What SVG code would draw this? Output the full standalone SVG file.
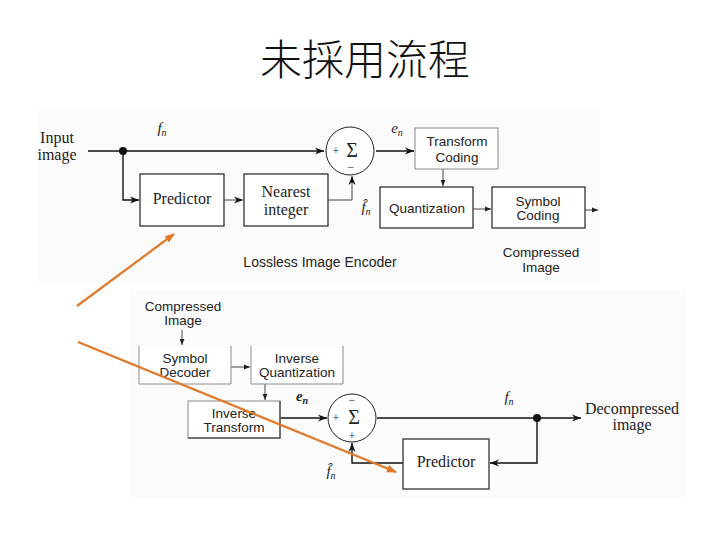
<svg xmlns="http://www.w3.org/2000/svg" width="720" height="540" viewBox="0 0 720 540">
<defs>
<marker id="ah" viewBox="0 0 10 10" refX="10" refY="5" markerWidth="9" markerHeight="9" markerUnits="userSpaceOnUse" orient="auto">
<path d="M0,1 L10,5 L0,9 L3,5 Z" fill="#111"/>
</marker>
<marker id="ahs" viewBox="0 0 10 10" refX="10" refY="5" markerWidth="6" markerHeight="6" markerUnits="userSpaceOnUse" orient="auto">
<path d="M0,1 L10,5 L0,9 Z" fill="#222"/>
</marker>
<marker id="oa" viewBox="0 0 10 10" refX="9" refY="5" markerWidth="10" markerHeight="10" markerUnits="userSpaceOnUse" orient="auto">
<path d="M0,1 L10,5 L0,9 Z" fill="#E07A2A"/>
</marker>
</defs>
<style>
.serif{font-family:"Liberation Serif","Times New Roman",serif;fill:#222;}
.sans{font-family:"Liberation Sans",Arial,sans-serif;fill:#222;}
.it{font-style:italic;}
.box{fill:#fff;stroke:#333;stroke-width:1.3;}
.gbox{fill:#fff;stroke:#8a8a8a;stroke-width:1;}
.ln{fill:none;stroke:#111;stroke-width:1.4;}
.lt{fill:none;stroke:#444;stroke-width:1;}
.sum{fill:#fff;stroke:#222;stroke-width:1;}
.or{fill:none;stroke:#E07A2A;stroke-width:2.2;}
</style>
<rect width="720" height="540" fill="#fff"/>
<rect x="38" y="110" width="562" height="172" fill="#fbfbfb"/>
<rect x="130" y="290" width="556" height="207" fill="#fbfbfb"/>

<text x="365" y="75" text-anchor="middle" font-family="Noto Sans CJK TC, sans-serif" font-size="42" font-weight="300" fill="#111">未採用流程</text>

<g id="connectors">
<line class="ln" x1="88" y1="151" x2="324" y2="151" marker-end="url(#ah)"/>
<circle cx="123" cy="151" r="4" fill="#111"/>
<polyline class="ln" points="123,151 123,200 139,200" marker-end="url(#ah)"/>
<line class="lt" x1="224" y1="200" x2="243" y2="200" marker-end="url(#ah)"/>
<polyline class="lt" points="328,200 352,200 352,176" marker-end="url(#ah)"/>
<line class="ln" x1="376" y1="151" x2="414" y2="151" marker-end="url(#ah)"/>
<line class="lt" x1="443" y1="169" x2="443" y2="186" marker-end="url(#ahs)"/>
<line class="lt" x1="473" y1="209" x2="491" y2="209" marker-end="url(#ahs)"/>
<line class="lt" x1="585" y1="210" x2="598" y2="210" marker-end="url(#ahs)"/>

<line class="lt" x1="182" y1="330" x2="182" y2="345" marker-end="url(#ahs)"/>
<line class="lt" x1="231" y1="367" x2="250" y2="367" marker-end="url(#ahs)"/>
<line class="lt" x1="265" y1="384" x2="265" y2="400" marker-end="url(#ahs)"/>
<line class="ln" x1="280" y1="418" x2="327" y2="418" marker-end="url(#ah)"/>
<line class="ln" x1="377" y1="418" x2="581" y2="418" marker-end="url(#ah)"/>
<circle cx="537" cy="418" r="4" fill="#111"/>
<polyline class="ln" points="537,418 537,463 490,463" marker-end="url(#ah)"/>
<polyline class="ln" points="403,463 352,463 352,443" marker-end="url(#ah)"/>
</g>

<g id="input-label">
<text class="serif" x="57" y="143" text-anchor="middle" font-size="16">Input</text>
<text class="serif" x="57" y="160" text-anchor="middle" font-size="16">image</text>
</g>
<text class="serif it" x="162" y="133" text-anchor="middle" font-size="15">f<tspan font-size="10" dy="3">n</tspan></text>

<g id="predictor-enc">
<rect class="box" x="140" y="174" width="84" height="52"/>
<text class="serif" x="182" y="204" text-anchor="middle" font-size="16">Predictor</text>
</g>
<g id="nearest-integer">
<rect class="box" x="244" y="174" width="84" height="52"/>
<text class="serif" x="286" y="197" text-anchor="middle" font-size="16">Nearest</text>
<text class="serif" x="286" y="215" text-anchor="middle" font-size="16">integer</text>
</g>
<g id="sum-enc">
<circle class="sum" cx="350" cy="151" r="24"/>
<text class="serif" x="336" y="155" text-anchor="middle" font-size="12">+</text>
<text class="serif" x="352" y="157" text-anchor="middle" font-size="20">Σ</text>
<text class="serif" x="351" y="171" text-anchor="middle" font-size="12">−</text>
</g>
<text class="serif it" x="397" y="133" text-anchor="middle" font-size="15">e<tspan font-size="10" dy="3">n</tspan></text>
<g id="transform-coding">
<rect class="gbox" x="415" y="128" width="83" height="41"/>
<text class="sans" x="457" y="146" text-anchor="middle" font-size="13.5">Transform</text>
<text class="sans" x="457" y="162" text-anchor="middle" font-size="13.5">Coding</text>
</g>
<text class="serif it" x="366" y="212" text-anchor="middle" font-size="15">f̂<tspan font-size="10" dy="3">n</tspan></text>
<g id="quantization">
<rect class="box" x="380" y="187" width="93" height="41"/>
<text class="sans" x="427" y="213" text-anchor="middle" font-size="13.5">Quantization</text>
</g>
<g id="symbol-coding">
<rect class="box" x="492" y="187" width="93" height="41"/>
<text class="sans" x="538" y="206" text-anchor="middle" font-size="13.5">Symbol</text>
<text class="sans" x="538" y="220" text-anchor="middle" font-size="13.5">Coding</text>
</g>
<text class="sans" x="320" y="267" text-anchor="middle" font-size="14">Lossless Image Encoder</text>
<g id="compressed-out">
<text class="sans" x="541" y="257" text-anchor="middle" font-size="13.5">Compressed</text>
<text class="sans" x="541" y="272" text-anchor="middle" font-size="13.5">Image</text>
</g>

<g id="compressed-in">
<text class="sans" x="183" y="311" text-anchor="middle" font-size="13.5">Compressed</text>
<text class="sans" x="183" y="325" text-anchor="middle" font-size="13.5">Image</text>
</g>
<g id="symbol-decoder">
<path class="gbox" d="M139,346 L139,384 L231,384 L231,346"/>
<text class="sans" x="185" y="363" text-anchor="middle" font-size="13.5">Symbol</text>
<text class="sans" x="185" y="377" text-anchor="middle" font-size="13.5">Decoder</text>
</g>
<g id="inverse-quantization">
<path class="gbox" d="M251,346 L251,384 L343,384 L343,346"/>
<text class="sans" x="297" y="363" text-anchor="middle" font-size="13.5">Inverse</text>
<text class="sans" x="297" y="377" text-anchor="middle" font-size="13.5">Quantization</text>
</g>
<g id="inverse-transform">
<rect class="gbox" x="188" y="401" width="92" height="37"/>
<path d="M188,438 L280,438 L280,401" fill="none" stroke="#555" stroke-width="1.5"/>
<text class="sans" x="234" y="418" text-anchor="middle" font-size="13.5">Inverse</text>
<text class="sans" x="234" y="432" text-anchor="middle" font-size="13.5">Transform</text>
</g>
<text class="serif it" x="302" y="401" text-anchor="middle" font-size="15" font-weight="bold">e<tspan font-size="10" dy="3">n</tspan></text>
<g id="sum-dec">
<circle class="sum" cx="352" cy="418" r="24"/>
<text class="serif" x="352" y="404" text-anchor="middle" font-size="12">−</text>
<text class="serif" x="336" y="422" text-anchor="middle" font-size="12">+</text>
<text class="serif" x="354" y="424" text-anchor="middle" font-size="20">Σ</text>
<text class="serif" x="352" y="440" text-anchor="middle" font-size="12">+</text>
</g>
<text class="serif it" x="509" y="402" text-anchor="middle" font-size="15">f<tspan font-size="10" dy="3">n</tspan></text>
<g id="decompressed">
<text class="serif" x="632" y="414" text-anchor="middle" font-size="16">Decompressed</text>
<text class="serif" x="632" y="430" text-anchor="middle" font-size="16">image</text>
</g>
<g id="predictor-dec">
<rect class="box" x="403" y="439" width="86" height="50"/>
<text class="serif" x="446" y="467" text-anchor="middle" font-size="16">Predictor</text>
</g>
<text class="serif it" x="331" y="476" text-anchor="middle" font-size="15">f̂<tspan font-size="10" dy="3">n</tspan></text>

<g id="annotations">
<line class="or" x1="77" y1="306" x2="174" y2="234" marker-end="url(#oa)"/>
<line class="or" x1="78" y1="342" x2="396" y2="472" marker-end="url(#oa)"/>
</g>
</svg>
